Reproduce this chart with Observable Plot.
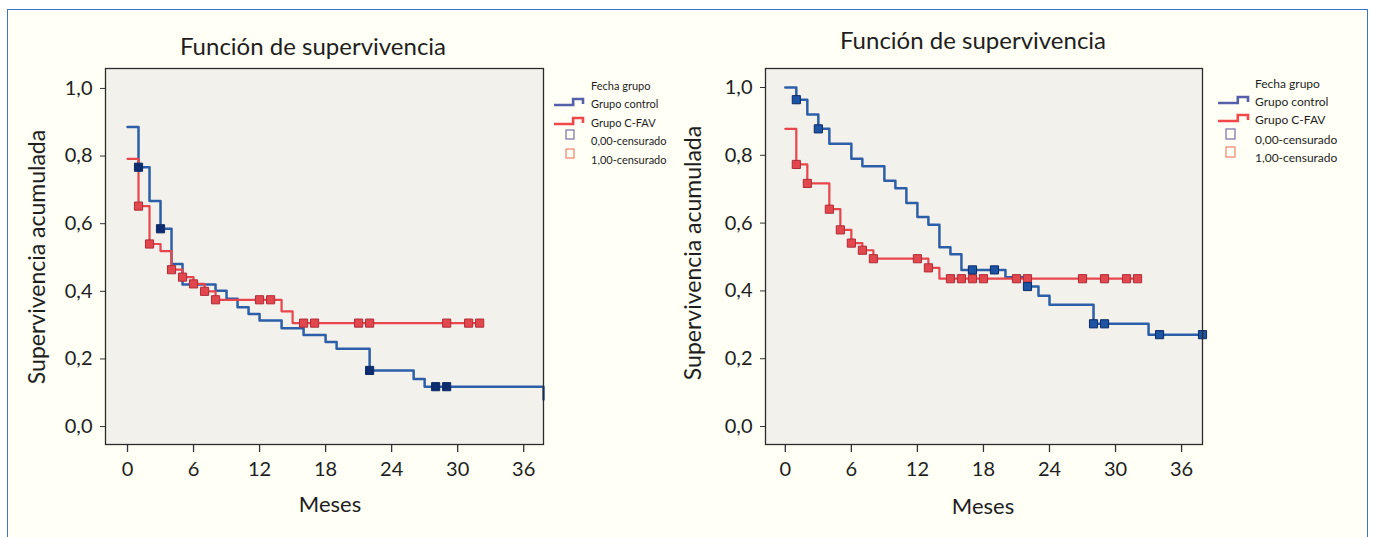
<!DOCTYPE html>
<html><head><meta charset="utf-8">
<script src="https://cdn.jsdelivr.net/npm/d3@7"></script>
<script src="https://cdn.jsdelivr.net/npm/@observablehq/plot@0.6"></script>
<style>
html,body{margin:0;padding:0;background:#fff;}
#page{position:relative;width:1373px;height:537px;overflow:hidden;background:#fff;}
#box{position:absolute;left:7px;top:9px;width:1361px;height:560px;border:1.5px solid #3f73c9;background:#fffff5;box-sizing:border-box;}
.panel{position:absolute;top:0;}
</style></head>
<body><div id="page"><div id="box"></div></div>
<script>
// ---------- text ----------
const titleText = "Función de supervivencia";
const xLabel = "Meses";
const yLabel = "Supervivencia acumulada";
const legendTitle = "Fecha grupo";
const groupNames = ["Grupo control", "Grupo C-FAV"];
const censorNames = ["0,00-censurado", "1,00-censurado"];
const xTicks = [0, 6, 12, 18, 24, 30, 36];
const yTicks = [0, 0.2, 0.4, 0.6, 0.8, 1.0];
const yTickLabels = ["0,0", "0,2", "0,4", "0,6", "0,8", "1,0"];

// ---------- left panel data ----------
const leftControlT = [0, 1, 2, 3, 4, 5, 8, 9, 10, 11, 12, 14, 16, 18, 19, 22, 26, 27, 37.8, 37.8];
const leftControlS = [0.886, 0.767, 0.667, 0.585, 0.481, 0.42, 0.402, 0.378, 0.353, 0.333, 0.314, 0.291, 0.271, 0.25, 0.23, 0.166, 0.141, 0.118, 0.118, 0.08];
const leftControlCensT = [1, 3, 22, 28, 29];
const leftControlCensS = [0.767, 0.585, 0.166, 0.118, 0.118];
const leftFavT = [0, 1, 2, 3, 4, 5, 6, 7, 8, 14, 15, 32];
const leftFavS = [0.792, 0.652, 0.54, 0.519, 0.464, 0.442, 0.422, 0.40, 0.375, 0.341, 0.306, 0.306];
const leftFavCensT = [1, 2, 4, 5, 6, 7, 8, 12, 13, 16, 17, 21, 22, 29, 31, 32];
const leftFavCensS = [0.652, 0.54, 0.464, 0.442, 0.422, 0.40, 0.375, 0.375, 0.375, 0.306, 0.306, 0.306, 0.306, 0.306, 0.306, 0.306];

// ---------- right panel data ----------
const rightControlT = [0, 1, 2, 3, 4, 6, 7, 9, 10, 11, 12, 13, 14, 15, 16, 20, 22, 23, 24, 28, 33, 37.9];
const rightControlS = [1.0, 0.964, 0.92, 0.878, 0.834, 0.79, 0.768, 0.725, 0.703, 0.659, 0.618, 0.595, 0.529, 0.508, 0.462, 0.44, 0.413, 0.386, 0.359, 0.303, 0.271, 0.271];
const rightControlCensT = [1, 3, 17, 19, 22, 28, 29, 34, 37.9];
const rightControlCensS = [0.964, 0.878, 0.462, 0.462, 0.413, 0.303, 0.303, 0.271, 0.271];
const rightFavT = [0, 1, 2, 4, 5, 6, 7, 8, 13, 14, 32];
const rightFavS = [0.878, 0.773, 0.717, 0.641, 0.58, 0.541, 0.52, 0.495, 0.468, 0.436, 0.436];
const rightFavCensT = [1, 2, 4, 5, 6, 7, 8, 12, 13, 15, 16, 17, 18, 21, 22, 27, 29, 31, 32];
const rightFavCensS = [0.773, 0.717, 0.641, 0.58, 0.541, 0.52, 0.495, 0.495, 0.468, 0.436, 0.436, 0.436, 0.436, 0.436, 0.436, 0.436, 0.436, 0.436, 0.436];

const FONT = "Lato, 'Open Sans', sans-serif";
const BLUE = "#2d5fa8", RED = "#e8464d";

const rows = (ts, ss) => ts.map((t, i) => ({t, s: ss[i]}));
const yFmt = d => yTickLabels[yTicks.findIndex(v => Math.abs(v - d) < 1e-9)];

function panel(cfg) {
  return Plot.plot({
    width: 560, height: 537,
    marginLeft: 105, marginRight: cfg.mr, marginTop: 68, marginBottom: 93,
    x: {domain: cfg.xd},
    y: {domain: cfg.yd},
    style: {fontFamily: FONT, fontSize: "20px", color: "#1e1e1e", background: "transparent", overflow: "visible"},
    marks: [
      Plot.frame({fill: "#f3f1ec", stroke: "none"}),
      Plot.axisX({ticks: xTicks, tickSize: 8, tickPadding: 9, tickFormat: d => String(d), label: null, stroke: "#333", strokeWidth: 1.3}),
      Plot.axisY({ticks: yTicks, tickSize: 5, tickPadding: 8, tickFormat: yFmt, label: null, stroke: "#333"}),
      Plot.line(rows(cfg.cT, cfg.cS), {x: "t", y: "s", curve: "step-after", stroke: BLUE, strokeWidth: 2.5}),
      Plot.line(rows(cfg.fT, cfg.fS), {x: "t", y: "s", curve: "step-after", stroke: RED, strokeWidth: 2.2}),
      Plot.dot(rows(cfg.fcT, cfg.fcS), {x: "t", y: "s", symbol: "square", r: 4.6, fill: "#e2474e", stroke: "#b02c38", strokeWidth: 1}),
      Plot.dot(rows(cfg.ccT, cfg.ccS), {x: "t", y: "s", symbol: "square", r: 4.6, fill: cfg.censFill, stroke: "#0c2a66", strokeWidth: 1}),
      Plot.frame({stroke: "#2b2b2b", strokeWidth: 1.3})
    ]
  });
}

const page = document.getElementById("page");
const left = panel({mr: 17, xd: [-2, 37.8], yd: [-0.053, 1.059],
  cT: leftControlT, cS: leftControlS, ccT: leftControlCensT, ccS: leftControlCensS,
  fT: leftFavT, fS: leftFavS, fcT: leftFavCensT, fcS: leftFavCensS, censFill: "#0d2d6e"});
left.classList.add("panel"); left.style.left = "0px";
page.appendChild(left);
const right = panel({mr: 18, xd: [-1.8, 37.9], yd: [-0.053, 1.056],
  cT: rightControlT, cS: rightControlS, ccT: rightControlCensT, ccS: rightControlCensS,
  fT: rightFavT, fS: rightFavS, fcT: rightFavCensT, fcS: rightFavCensS, censFill: "#1d53a3"});
right.classList.add("panel"); right.style.left = "660px";
page.appendChild(right);

// ---------- titles, axis titles, legends ----------
const svg = d3.select("#page").append("svg")
  .attr("width", 1373).attr("height", 537)
  .style("position", "absolute").style("left", 0).style("top", 0)
  .style("font-family", FONT).style("fill", "#1e1e1e");

function decorate(o) {
  svg.append("text").attr("x", o.tx).attr("y", o.ty).attr("text-anchor", "middle")
    .attr("font-size", 24).text(titleText);
  svg.append("text").attr("x", o.mx).attr("y", o.my).attr("text-anchor", "middle")
    .attr("font-size", 22).text(xLabel);
  svg.append("text").attr("transform", `translate(${o.yx},${o.yy}) rotate(-90)`)
    .attr("text-anchor", "middle").attr("font-size", 23).text(yLabel);
  // legend
  const g = svg.append("g").attr("font-size", o.lfs);
  const rowsY = o.ly;
  g.append("text").attr("x", o.lx).attr("y", rowsY[0]).text(legendTitle);
  const iconColors = ["#5660aa", "#f0474a"];
  groupNames.forEach((name, i) => {
    const base = rowsY[i + 1] - 3;
    g.append("path")
      .attr("d", `M${o.ix},${base} H${o.ix + o.iw * 0.66} V${base - 6} H${o.ix + o.iw} V${base - 1}`)
      .attr("fill", "none").attr("stroke", iconColors[i]).attr("stroke-width", 2.6);
    g.append("text").attr("x", o.lx).attr("y", rowsY[i + 1]).text(name);
  });
  const sqColors = ["#7a6fa6", "#f4826c"];
  censorNames.forEach((name, i) => {
    g.append("rect").attr("x", o.sx).attr("y", rowsY[i + 3] - 15)
      .attr("width", o.ss).attr("height", o.ss + 1)
      .attr("fill", "none").attr("stroke", sqColors[i]).attr("stroke-width", 1.2);
    g.append("text").attr("x", o.lx).attr("y", rowsY[i + 3]).text(name);
  });
}

decorate({tx: 313, ty: 55, mx: 330, my: 512, yx: 45, yy: 257,
  lx: 591, ly: [90, 108, 127, 145, 164], lfs: 11, ix: 554, iw: 29, sx: 566, ss: 8});
decorate({tx: 973, ty: 49, mx: 983, my: 514, yx: 701, yy: 253,
  lx: 1255, ly: [88, 106, 124, 144, 162], lfs: 12, ix: 1218, iw: 30, sx: 1226, ss: 9});
</script>
</body></html>
